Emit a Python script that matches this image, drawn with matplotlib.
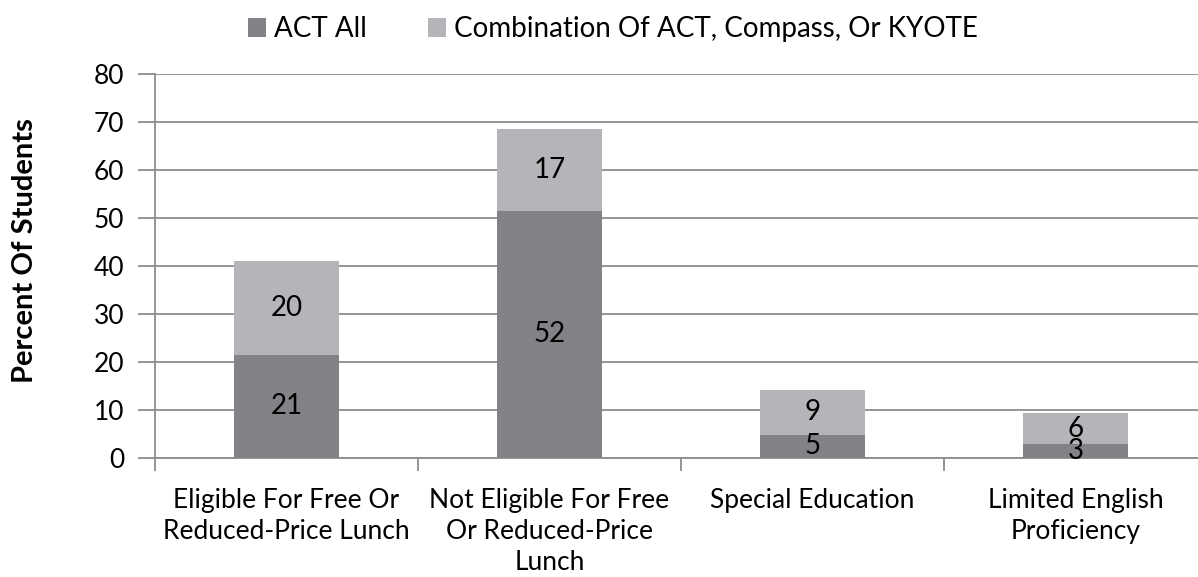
import numpy as np
import matplotlib
matplotlib.use('Agg')
import matplotlib.pyplot as plt

categories = ['Eligible For Free Or\nReduced-Price Lunch',
              'Not Eligible For Free\nOr Reduced-Price\nLunch',
              'Special Education',
              'Limited English\nProficiency']
act_all = [21.4, 51.5, 4.8, 2.8]
combination = [19.7, 17.0, 9.4, 6.45]
series_names = ['ACT All', 'Combination Of ACT, Compass, Or KYOTE']
yticks = [0, 10, 20, 30, 40, 50, 60, 70, 80]

plt.rcParams['font.family'] = ['Lato', 'DejaVu Sans']

fig = plt.figure(figsize=(11.98, 5.77), dpi=100)
ax = fig.add_axes([155 / 1198, 119.3 / 577, 1052 / 1198, 383.7 / 577])

x = np.arange(len(categories))
dark = '#838387'
light = '#b4b5b8'
grid_c = '#8c8c8c'

b1 = ax.bar(x, act_all, width=0.4, color=dark, label=series_names[0], zorder=3)
b2 = ax.bar(x, combination, width=0.4, bottom=act_all, color=light,
            label=series_names[1], zorder=3)
ax.bar_label(b1, fmt='%.0f', label_type='center', fontsize=20, zorder=4)
ax.bar_label(b2, fmt='%.0f', label_type='center', fontsize=20, zorder=4)

ax.set_xlim(-0.5, len(categories) - 0.5)
ax.set_ylim(0, 80)
ax.set_yticks(yticks)
ax.yaxis.grid(True, color=grid_c, linewidth=1.3, zorder=0)
ax.set_axisbelow(True)

ax.set_xticks(x)
ax.set_xticklabels(categories, fontsize=19, linespacing=1.3)
ax.set_xticks(np.arange(len(categories)) - 0.5, minor=True)
ax.tick_params(axis='x', which='major', length=0, pad=22)
ax.tick_params(axis='x', which='minor', length=9, width=1.3, color=grid_c, direction='out')
ax.tick_params(axis='y', length=12, width=1.3, color=grid_c, labelsize=19, pad=10)

for s in ['top', 'right']:
    ax.spines[s].set_visible(False)
ax.spines['left'].set_color(grid_c)
ax.spines['left'].set_linewidth(1.3)
ax.spines['bottom'].set_color(grid_c)
ax.spines['bottom'].set_linewidth(1.3)

fig.text(25 / 1198, 1 - 251 / 577, 'Percent Of Students', rotation=90,
         ha='center', va='center', fontsize=21, fontweight='bold')

fig.legend(loc='center', bbox_to_anchor=(613 / 1198, 1 - 29 / 577), ncol=2,
           frameon=False, fontsize=20, handlelength=0.65, handleheight=0.65,
           handletextpad=0.3, columnspacing=2.2)

fig.savefig('out.png', dpi=100)
